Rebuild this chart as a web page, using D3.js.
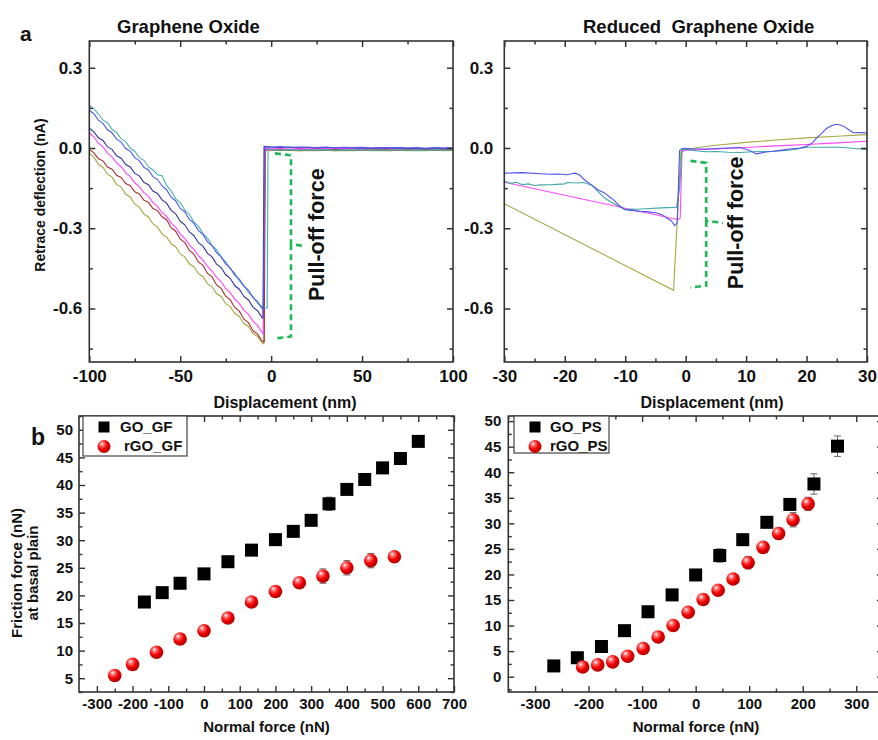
<!DOCTYPE html>
<html><head><meta charset="utf-8">
<script src="https://cdn.jsdelivr.net/npm/d3@7"></script>
<style>
body{margin:0;background:#fff}
text{font-family:"Liberation Sans",Arial,sans-serif;font-weight:bold;fill:#111}
</style>
</head><body>
<svg id="c" width="878" height="740" xmlns="http://www.w3.org/2000/svg"></svg>
<script>
// ---------------- DATA ----------------
// Panel a (left): Graphene Oxide retrace curves, displacement (nm) vs deflection (nA)
const GO_SLOPE_X = [-100,-97.5,-95,-92.5,-90,-87.5,-85,-82.5,-80,-77.5,-75,-72.5,-70,-67.5,-65,-62.5,-60,-57.5,-55,-52.5,-50,-47.5,-45,-42.5,-40,-37.5,-35,-32.5,-30,-27.5,-25,-22.5,-20,-17.5,-15,-12.5,-10,-7.5,-5];
const GO_TEAL  = [0.160,0.146,0.128,0.104,0.094,0.070,0.058,0.034,0.024,0.000,-0.012,-0.036,-0.046,-0.070,-0.082,-0.100,-0.104,-0.140,-0.160,-0.190,-0.204,-0.232,-0.248,-0.277,-0.292,-0.320,-0.337,-0.365,-0.380,-0.409,-0.425,-0.452,-0.468,-0.497,-0.513,-0.540,-0.556,-0.580,-0.594];
const GO_BLUE  = [0.141,0.128,0.104,0.092,0.068,0.057,0.033,0.022,-0.002,-0.012,-0.037,-0.047,-0.072,-0.082,-0.107,-0.117,-0.142,-0.156,-0.184,-0.198,-0.226,-0.239,-0.267,-0.281,-0.309,-0.323,-0.351,-0.365,-0.392,-0.406,-0.434,-0.448,-0.476,-0.490,-0.517,-0.531,-0.559,-0.574,-0.600];
const GO_NAVY  = [0.074,0.060,0.038,0.028,0.004,-0.005,-0.029,-0.038,-0.062,-0.071,-0.095,-0.104,-0.128,-0.137,-0.161,-0.170,-0.194,-0.206,-0.233,-0.246,-0.274,-0.287,-0.314,-0.327,-0.354,-0.367,-0.394,-0.407,-0.434,-0.447,-0.474,-0.487,-0.515,-0.528,-0.555,-0.568,-0.595,-0.608,-0.634];
const GO_MAG   = [0.057,0.041,0.018,0.004,-0.019,-0.033,-0.056,-0.070,-0.093,-0.107,-0.130,-0.144,-0.167,-0.181,-0.204,-0.218,-0.241,-0.256,-0.281,-0.297,-0.321,-0.338,-0.362,-0.378,-0.403,-0.419,-0.443,-0.460,-0.484,-0.500,-0.525,-0.541,-0.565,-0.582,-0.606,-0.622,-0.647,-0.663,-0.690];
const GO_BROWN = [-0.005,-0.018,-0.040,-0.048,-0.071,-0.079,-0.102,-0.110,-0.133,-0.141,-0.164,-0.172,-0.195,-0.203,-0.226,-0.234,-0.257,-0.268,-0.298,-0.311,-0.340,-0.354,-0.383,-0.397,-0.426,-0.439,-0.469,-0.482,-0.512,-0.525,-0.554,-0.568,-0.597,-0.610,-0.640,-0.653,-0.683,-0.696,-0.722];
const GO_OLIVE = [-0.020,-0.034,-0.061,-0.072,-0.098,-0.109,-0.136,-0.146,-0.173,-0.183,-0.210,-0.221,-0.247,-0.258,-0.284,-0.295,-0.322,-0.332,-0.359,-0.369,-0.396,-0.407,-0.433,-0.444,-0.470,-0.481,-0.508,-0.518,-0.545,-0.555,-0.582,-0.593,-0.619,-0.630,-0.656,-0.667,-0.694,-0.704,-0.728];
// jump (pull-off) points: [x,y] bottom then top
const GO_TEAL_JUMP  = [[-2.2,-0.598],[-1.7,-0.004]];
const GO_BLUE_JUMP  = [[-4.2,-0.603],[-3.6,0.004]];
const GO_NAVY_JUMP  = [[-4.5,-0.636],[-3.9,0.006]];
const GO_MAG_JUMP   = [[-4.4,-0.695],[-3.5,-0.002]];
const GO_BROWN_JUMP = [[-3.8,-0.725],[-3.2,-0.006]];
const GO_OLIVE_JUMP = [[-4.1,-0.732],[-3.4,-0.005]];
const GO_TAIL_X = [0,5,10,15,20,25,30,35,40,45,50,55,60,65,70,75,80,85,90,95,100];
const GO_TEAL_TAIL  = [-0.006,-0.008,-0.006,-0.009,-0.007,-0.008,-0.006,-0.009,-0.007,-0.008,-0.006,-0.008,-0.007,-0.009,-0.006,-0.008,-0.007,-0.008,-0.006,-0.008,-0.007];
const GO_BLUE_TAIL  = [0.003,0.005,0.002,0.004,0.003,0.002,0.004,0.001,0.003,0.002,0.003,0.000,0.002,0.001,0.002,0.000,0.001,-0.001,0.001,0.000,0.001];
const GO_NAVY_TAIL  = [0.004,0.002,0.004,0.001,0.003,0.000,0.002,0.001,0.002,0.000,0.001,-0.001,0.001,0.000,0.001,-0.001,0.000,-0.002,0.000,-0.001,0.000];
const GO_MAG_TAIL   = [-0.003,-0.002,-0.004,-0.002,-0.003,-0.001,-0.003,-0.002,-0.001,-0.003,-0.002,-0.001,-0.002,-0.001,-0.002,-0.002,-0.001,-0.002,-0.001,-0.002,-0.002];
const GO_BROWN_TAIL = [-0.007,-0.006,-0.008,-0.007,-0.006,-0.008,-0.007,-0.006,-0.007,-0.008,-0.006,-0.007,-0.006,-0.007,-0.008,-0.006,-0.007,-0.006,-0.007,-0.006,-0.007];
const GO_OLIVE_TAIL = [-0.008,-0.010,-0.008,-0.011,-0.009,-0.010,-0.008,-0.011,-0.009,-0.010,-0.008,-0.010,-0.009,-0.011,-0.008,-0.010,-0.009,-0.010,-0.008,-0.010,-0.009];

// Panel a (right): Reduced Graphene Oxide
const RGO_OLIVE_X = [-30,-2,-0.8,0,2,5,10,15,20,25,30];
const RGO_OLIVE_Y = [-0.208,-0.532,-0.015,-0.008,0.002,0.010,0.021,0.030,0.038,0.044,0.050];
const RGO_MAG_X = [-30,-1.2,-0.9,-0.6,0,5,10,15,20,25,30];
const RGO_MAG_Y = [-0.128,-0.268,-0.262,-0.012,-0.008,-0.004,0.002,0.008,0.013,0.019,0.025];
const RGO_TEAL_X = [-30,-29,-28,-27,-26,-25,-24,-22,-20,-19.6,-18,-16.8,-15.5,-14.6,-13.5,-12.5,-11.5,-10,-9,-8,-6,-4,-2,-1.5,-1.0,-0.6,0,1,2,3.5,5,7,9,11,12.5,14.5,16,18,20,22,25.5,28,30];
const RGO_TEAL_Y = [-0.123,-0.132,-0.128,-0.137,-0.134,-0.140,-0.138,-0.137,-0.134,-0.129,-0.131,-0.129,-0.140,-0.160,-0.185,-0.200,-0.212,-0.231,-0.228,-0.229,-0.226,-0.224,-0.222,-0.221,-0.150,-0.004,-0.005,-0.008,-0.011,-0.014,-0.013,-0.016,-0.017,-0.014,-0.013,-0.012,-0.010,-0.005,0.003,0.003,0.003,-0.002,-0.005];
const RGO_BLUE_X = [-30,-27,-24,-22.6,-21,-19.6,-18.9,-18.2,-17.5,-16.8,-15.7,-14.6,-13.5,-12.4,-11.9,-11,-10,-9,-7.6,-6.5,-4.8,-3.8,-3.1,-2.4,-1.8,-1.4,-1.0,-0.4,1,3.5,6,9,10.5,11.7,13,14.5,16,17.3,19,20,21,21.6,22.5,23.3,24.2,24.9,25.6,26.3,27,27.7,29,30];
const RGO_BLUE_Y = [-0.094,-0.092,-0.096,-0.098,-0.097,-0.100,-0.096,-0.094,-0.102,-0.118,-0.136,-0.155,-0.167,-0.186,-0.194,-0.215,-0.231,-0.233,-0.237,-0.238,-0.243,-0.250,-0.262,-0.272,-0.290,-0.280,-0.010,-0.001,-0.003,-0.004,-0.001,0.002,-0.008,-0.022,-0.016,-0.012,-0.008,-0.004,0.000,0.006,0.020,0.036,0.055,0.073,0.084,0.089,0.086,0.079,0.068,0.057,0.058,0.057];

// Panel b (left): Friction vs normal force, GF
const GO_GF_X   = [-167,-117,-67,0,67,133,200,250,300,350,400,450,500,550,600];
const GO_GF_Y   = [18.8,20.5,22.2,23.9,26.1,28.2,30.1,31.6,33.6,36.6,39.2,41.0,43.1,44.8,47.9];
const GO_GF_ERR = [0.4,0.4,0.5,0.4,0.4,0.4,0.4,0.4,0.5,1.2,0.5,0.4,0.4,0.4,0.4];
const RGO_GF_X   = [-250,-200,-133,-67,0,67,133,200,267,333,400,467,533];
const RGO_GF_Y   = [5.5,7.5,9.7,12.1,13.6,15.9,18.8,20.7,22.3,23.5,25.0,26.3,27.0];
const RGO_GF_ERR = [0.4,0.4,0.4,0.4,0.5,0.5,0.9,0.6,0.5,1.3,1.3,1.3,0.7];

// Panel b (right): Friction vs normal force, PS
const GO_PS_X   = [-265,-221,-176,-133,-89,-44,0,45,88,133,176,221,265];
const GO_PS_Y   = [2.1,3.7,5.9,9.0,12.7,16.0,19.9,23.7,26.8,30.2,33.7,37.7,45.1];
const GO_PS_ERR = [0.4,0.4,0.4,0.4,0.4,0.6,0.9,1.3,1.0,0.6,0.8,2.0,2.0];
const RGO_PS_X   = [-211,-183,-155,-127,-98,-70,-42,-14,14,42,70,98,126,155,182,210];
const RGO_PS_Y   = [1.9,2.3,2.9,4.0,5.5,7.75,10.0,12.6,15.1,16.9,19.1,22.3,25.3,28.0,30.7,33.8];
const RGO_PS_ERR = [0.3,0.3,0.3,0.4,0.4,0.4,0.5,0.5,0.6,0.6,0.6,1.2,0.8,1.1,1.4,1.3];

// Tick values
const A_Y_MAJOR = [0.3, 0.0, -0.3, -0.6];
const A_Y_MINOR = [0.15, -0.15, -0.45, -0.75];
const GO_X_MAJOR = [-100,-50,0,50,100];
const GO_X_MINOR = [-75,-25,25,75];
const RGO_X_MAJOR = [-30,-20,-10,0,10,20,30];
const RGO_X_MINOR = [-25,-15,-5,5,15,25];
const GF_X_MAJOR = [-300,-200,-100,0,100,200,300,400,500,600,700];
const GF_X_MINOR = [-250,-150,-50,50,150,250,350,450,550,650];
const GF_Y_MAJOR = [5,10,15,20,25,30,35,40,45,50];
const GF_Y_MINOR = [2.5,7.5,12.5,17.5,22.5,27.5,32.5,37.5,42.5,47.5,52.5];
const PS_X_MAJOR = [-300,-200,-100,0,100,200,300];
const PS_X_MINOR = [-350,-250,-150,-50,50,150,250,350];
const PS_Y_MAJOR = [0,5,10,15,20,25,30,35,40,45,50];
const PS_Y_MINOR = [-2.5,2.5,7.5,12.5,17.5,22.5,27.5,32.5,37.5,42.5,47.5];

// ---------------- DRAW ----------------
const svg = d3.select("#c");
svg.append("rect").attr("width",878).attr("height",740).attr("fill","#fff");

const defs = svg.append("defs");
const grad = defs.append("radialGradient").attr("id","sphere")
  .attr("cx","38%").attr("cy","35%").attr("r","65%").attr("fx","35%").attr("fy","30%");
grad.append("stop").attr("offset","0%").attr("stop-color","#ffffff");
grad.append("stop").attr("offset","25%").attr("stop-color","#ff6a6a");
grad.append("stop").attr("offset","60%").attr("stop-color","#f00000");
grad.append("stop").attr("offset","100%").attr("stop-color","#b00000");

function frame(x, y, o){
  const g = svg.append("g");
  const [xa,xb] = x.range(), [yb,ya] = y.range();
  const axc = "#333";
  function style(sel, fs){
    sel.select(".domain").remove();
    sel.selectAll(".tick line").attr("stroke",axc).attr("stroke-width",o.tw);
    sel.selectAll(".tick text").attr("font-size",fs).attr("font-family","Liberation Sans, Arial, sans-serif").attr("font-weight","bold").attr("fill","#111");
  }
  g.append("g").attr("transform",`translate(0,${yb})`)
    .call(d3.axisBottom(x).tickValues(o.xMajor).tickSize(-o.maj).tickPadding(o.xPad).tickFormat(o.xFmt))
    .call(s=>style(s,o.fs));
  g.append("g").attr("transform",`translate(0,${yb})`)
    .call(d3.axisBottom(x).tickValues(o.xMinor).tickSize(-o.min).tickFormat(""))
    .call(s=>style(s,o.fs));
  g.append("g").attr("transform",`translate(0,${ya})`)
    .call(d3.axisTop(x).tickValues(o.xMajor).tickSize(-o.maj).tickFormat(""))
    .call(s=>style(s,o.fs));
  g.append("g").attr("transform",`translate(0,${ya})`)
    .call(d3.axisTop(x).tickValues(o.xMinor).tickSize(-o.min).tickFormat(""))
    .call(s=>style(s,o.fs));
  g.append("g").attr("transform",`translate(${xa},0)`)
    .call(d3.axisLeft(y).tickValues(o.yMajor).tickSize(-o.maj).tickPadding(o.yPad).tickFormat(o.yFmt))
    .call(s=>style(s,o.fs));
  g.append("g").attr("transform",`translate(${xa},0)`)
    .call(d3.axisLeft(y).tickValues(o.yMinor).tickSize(-o.min).tickFormat(""))
    .call(s=>style(s,o.fs));
  g.append("g").attr("transform",`translate(${xb},0)`)
    .call(d3.axisRight(y).tickValues(o.yMajor).tickSize(-o.maj).tickFormat(""))
    .call(s=>style(s,o.fs));
  g.append("g").attr("transform",`translate(${xb},0)`)
    .call(d3.axisRight(y).tickValues(o.yMinor).tickSize(-o.min).tickFormat(""))
    .call(s=>style(s,o.fs));
  g.append("rect").attr("x",xa).attr("y",ya).attr("width",xb-xa).attr("height",yb-ya)
    .attr("fill","none").attr("stroke",axc).attr("stroke-width",o.fw);
  return g;
}
const fmt1 = v => (Math.abs(v)<1e-9 ? "0.0" : v.toFixed(1));
const fmt0 = v => String(v);

const xA = d3.scaleLinear().domain([-100,100]).range([89.3,453]);
const yA = d3.scaleLinear().domain([-0.8,0.4]).range([362,41]);
const xB = d3.scaleLinear().domain([-30,30]).range([504.3,867]);
const yB = d3.scaleLinear().domain([-0.8,0.4]).range([362,41]);

const line = (x,y)=>d3.line().x(d=>x(d[0])).y(d=>y(d[1]));

function goCurve(slope, jump, tail){
  return d3.zip(GO_SLOPE_X, slope).concat(jump).concat(d3.zip(GO_TAIL_X, tail));
}
const goCurves = [
  [goCurve(GO_OLIVE, GO_OLIVE_JUMP, GO_OLIVE_TAIL), "#a6a640"],
  [goCurve(GO_BROWN, GO_BROWN_JUMP, GO_BROWN_TAIL), "#a83030"],
  [goCurve(GO_MAG, GO_MAG_JUMP, GO_MAG_TAIL), "#ff44ff"],
  [goCurve(GO_TEAL, GO_TEAL_JUMP, GO_TEAL_TAIL), "#48b0b0"],
  [goCurve(GO_NAVY, GO_NAVY_JUMP, GO_NAVY_TAIL), "#34349a"],
  [goCurve(GO_BLUE, GO_BLUE_JUMP, GO_BLUE_TAIL), "#5058f0"]
];
const gA = svg.append("g");
goCurves.forEach(([d,c])=>{
  gA.append("path").attr("d",line(xA,yA)(d)).attr("fill","none").attr("stroke",c).attr("stroke-width",1.1);
});
frame(xA,yA,{xMajor:GO_X_MAJOR,xMinor:GO_X_MINOR,yMajor:A_Y_MAJOR,yMinor:A_Y_MINOR,maj:6,min:3.5,xPad:8,yPad:7,fs:"17px",xFmt:fmt0,yFmt:fmt1,tw:1.5,fw:1.6});

const rgoCurves = [
  [d3.zip(RGO_OLIVE_X,RGO_OLIVE_Y), "#a8a848"],
  [d3.zip(RGO_MAG_X,RGO_MAG_Y), "#ff44ff"],
  [d3.zip(RGO_TEAL_X,RGO_TEAL_Y), "#44a8a8"],
  [d3.zip(RGO_BLUE_X,RGO_BLUE_Y), "#5050f0"]
];
const gB = svg.append("g");
rgoCurves.forEach(([d,c])=>{
  gB.append("path").attr("d",line(xB,yB)(d)).attr("fill","none").attr("stroke",c).attr("stroke-width",1.1);
});
frame(xB,yB,{xMajor:RGO_X_MAJOR,xMinor:RGO_X_MINOR,yMajor:A_Y_MAJOR,yMinor:A_Y_MINOR,maj:6,min:3.5,xPad:8,yPad:11,fs:"17px",xFmt:fmt0,yFmt:fmt1,tw:1.5,fw:1.6});

function bracket(x,y,xl,xr,xn,yt,ym,ybt){
  const p = d3.path();
  p.moveTo(x(xl),y(yt)); p.lineTo(x(xr),y(yt)+2); p.lineTo(x(xr),y(ym)-2);
  p.lineTo(x(xn),y(ym));
  p.moveTo(x(xr),y(ym)-2); p.lineTo(x(xr),y(ybt)-2); p.lineTo(x(xl),y(ybt));
  svg.append("path").attr("d",p.toString()).attr("fill","none").attr("stroke","#1db954")
    .attr("stroke-width",2.6).attr("stroke-dasharray","6,4");
}
bracket(xA,yA,2.1,10.9,18.6,-0.02,-0.367,-0.712);
bracket(xB,yB,0.8,3.4,6.2,-0.048,-0.28,-0.522);
function vtext(x,y,t,fs){
  svg.append("text").attr("transform",`translate(${x},${y}) rotate(-90)`).attr("text-anchor","middle")
    .attr("font-size",fs).attr("font-family","Lato, 'Open Sans', sans-serif").attr("font-weight","bold").text(t);
}
vtext(xA(29.3),yA(-0.324),"Pull-off force","21.5px");
vtext(xB(9.5),yB(-0.28),"Pull-off force","21.5px");

svg.append("text").attr("x",117).attr("y",33).attr("font-size","18.5px").text("Graphene Oxide");
svg.append("text").attr("x",583).attr("y",33).attr("font-size","18.5px").style("white-space","pre").text("Reduced  Graphene Oxide");
svg.append("text").attr("x",20).attr("y",41).attr("font-size","21px").text("a");
svg.append("text").attr("x",31).attr("y",445).attr("font-size","23px").text("b");
svg.append("text").attr("x",285).attr("y",408).attr("text-anchor","middle").attr("font-size","16px").text("Displacement (nm)");
svg.append("text").attr("x",712).attr("y",408).attr("text-anchor","middle").attr("font-size","16px").text("Displacement (nm)");
svg.append("text").attr("transform","translate(45,195) rotate(-90)").attr("text-anchor","middle").attr("font-size","14px").text("Retrace deflection (nA)");

const xC = d3.scaleLinear().domain([-350,700]).range([79,454]);
const yC = d3.scaleLinear().domain([2.5,52.5]).range([692,416]);
const xD = d3.scaleLinear().domain([-350,350]).range([508.3,883]);
const yD = d3.scaleLinear().domain([-3,51]).range([692,416]);

function errbars(g,x,y,X,Y,E){
  X.forEach((v,i)=>{
    const cx=x(v), y1=y(Y[i]-E[i]), y2=y(Y[i]+E[i]);
    g.append("line").attr("x1",cx).attr("x2",cx).attr("y1",y1).attr("y2",y2).attr("stroke","#666").attr("stroke-width",1);
    [y1,y2].forEach(yy=>g.append("line").attr("x1",cx-3.5).attr("x2",cx+3.5).attr("y1",yy).attr("y2",yy).attr("stroke","#666").attr("stroke-width",1));
  });
}
function squares(g,x,y,X,Y,s){
  g.selectAll(null).data(d3.zip(X,Y)).join("rect")
    .attr("x",d=>x(d[0])-s/2).attr("y",d=>y(d[1])-s/2).attr("width",s).attr("height",s).attr("fill","#000");
}
function spheres(g,x,y,X,Y,r){
  g.selectAll(null).data(d3.zip(X,Y)).join("circle")
    .attr("cx",d=>x(d[0])).attr("cy",d=>y(d[1])).attr("r",r).attr("fill","url(#sphere)");
}
const gC = svg.append("g");
errbars(gC,xC,yC,GO_GF_X,GO_GF_Y,GO_GF_ERR);
errbars(gC,xC,yC,RGO_GF_X,RGO_GF_Y,RGO_GF_ERR);
squares(gC,xC,yC,GO_GF_X,GO_GF_Y,13);
spheres(gC,xC,yC,RGO_GF_X,RGO_GF_Y,6.8);
frame(xC,yC,{xMajor:GF_X_MAJOR,xMinor:GF_X_MINOR,yMajor:GF_Y_MAJOR,yMinor:GF_Y_MINOR,maj:6,min:3.5,xPad:6,yPad:6,fs:"15px",xFmt:fmt0,yFmt:fmt0,tw:1.4,fw:1.6});

const gD = svg.append("g");
errbars(gD,xD,yD,GO_PS_X,GO_PS_Y,GO_PS_ERR);
errbars(gD,xD,yD,RGO_PS_X,RGO_PS_Y,RGO_PS_ERR);
squares(gD,xD,yD,GO_PS_X,GO_PS_Y,13);
spheres(gD,xD,yD,RGO_PS_X,RGO_PS_Y,6.8);
frame(xD,yD,{xMajor:PS_X_MAJOR,xMinor:PS_X_MINOR,yMajor:PS_Y_MAJOR,yMinor:PS_Y_MINOR,maj:6,min:3.5,xPad:6,yPad:7,fs:"15px",xFmt:fmt0,yFmt:fmt0,tw:1.4,fw:1.6});

function legend(x0,y0,w,h,labels,tx){
  svg.append("rect").attr("x",x0).attr("y",y0).attr("width",w).attr("height",h).attr("fill","#fff").attr("stroke","#444").attr("stroke-width",1.2);
  svg.append("rect").attr("x",x0+21-5.5).attr("y",y0+11-5.5).attr("width",11).attr("height",11).attr("fill","#000");
  svg.append("circle").attr("cx",x0+21).attr("cy",y0+30.5).attr("r",6.5).attr("fill","url(#sphere)");
  svg.append("text").attr("x",tx[0]).attr("y",y0+16).attr("font-size","15px").text(labels[0]);
  svg.append("text").attr("x",tx[1]).attr("y",y0+35).attr("font-size","15px").text(labels[1]);
}
legend(83,416,104,40,["GO_GF","rGO_GF"],[120,124]);
legend(514,416,95,37,["GO_PS","rGO_PS"],[550,550]);

svg.append("text").attr("x",266.5).attr("y",732).attr("text-anchor","middle").attr("font-size","15px").text("Normal force (nN)");
svg.append("text").attr("x",696).attr("y",732).attr("text-anchor","middle").attr("font-size","15px").text("Normal force (nN)");
svg.append("text").attr("transform","translate(22,573) rotate(-90)").attr("text-anchor","middle").attr("font-size","15px").text("Friction force (nN)");
svg.append("text").attr("transform","translate(38,573) rotate(-90)").attr("text-anchor","middle").attr("font-size","15px").text("at basal plain");
</script>
</body></html>
